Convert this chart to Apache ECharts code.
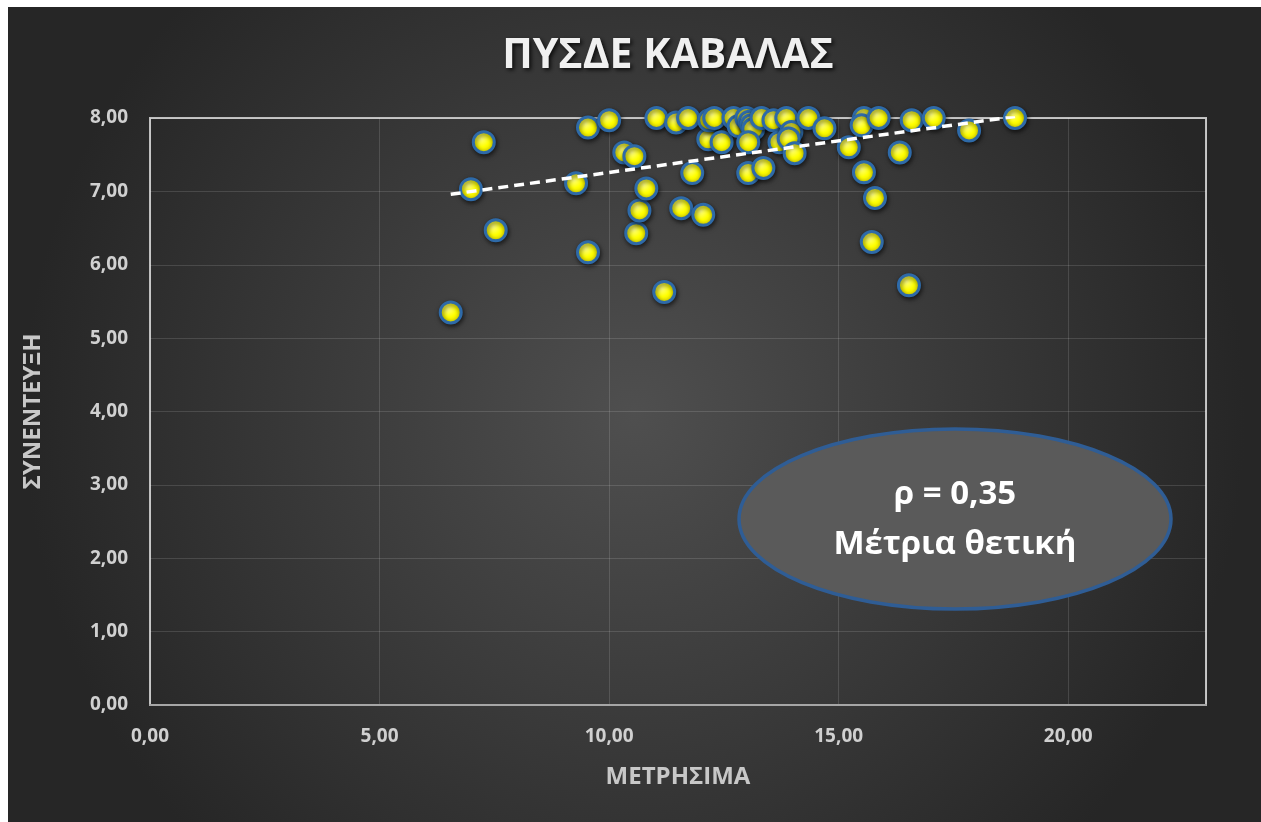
<!DOCTYPE html>
<html>
<head>
<meta charset="utf-8">
<script src="https://cdn.jsdelivr.net/npm/echarts@6.0.0/dist/echarts.min.js"></script>
<style>
  html, body { margin: 0; padding: 0; background: #fff; }
  #chart { position: absolute; left: 8px; top: 7px; width: 1253px; height: 815px; }
</style>
</head>
<body>
<div id="chart"></div>
<script>
// μετρήσιμα (x) και συνέντευξη (y), διαβασμένα από το διάγραμμα
const metrisima = [
  6.55, 6.99, 7.27, 7.53, 9.28, 9.54, 9.54, 10.00, 10.33, 10.55,
  10.59, 10.66, 10.81, 11.03, 11.20, 11.46, 11.57, 11.72, 11.81, 12.05,
  12.16, 12.18, 12.29, 12.45, 12.71, 12.82, 12.99, 13.06, 13.10, 13.14,
  13.03, 13.03, 13.32, 13.36, 13.58, 13.71, 13.86, 13.97, 13.91, 14.04,
  14.34, 14.69, 15.22, 15.55, 15.50, 15.55, 15.72, 15.79, 15.87, 16.33,
  16.53, 16.59, 17.07, 17.84, 18.84
];
const synenteuxi = [
  5.35, 7.03, 7.67, 6.47, 7.11, 7.87, 6.17, 7.97, 7.53, 7.48,
  6.43, 6.74, 7.04, 8.00, 5.63, 7.94, 6.77, 8.00, 7.25, 6.68,
  7.71, 7.97, 8.00, 7.67, 8.00, 7.89, 8.00, 7.95, 7.90, 7.85,
  7.67, 7.25, 8.00, 7.32, 7.97, 7.67, 8.00, 7.81, 7.72, 7.52,
  8.00, 7.86, 7.60, 8.00, 7.90, 7.26, 6.31, 6.91, 8.00, 7.53,
  5.72, 7.97, 8.00, 7.83, 8.00
];
// γραμμή τάσης: άκρα
const trendX = [6.55, 18.84];
const trendY = [6.96, 8.02];

const xTicks = [0, 5, 10, 15, 20];
const yTicks = [0, 1, 2, 3, 4, 5, 6, 7, 8];

const fmt = v => v.toFixed(2).replace('.', ',');
const FONT = 'Open Sans';

const myChart = echarts.init(document.getElementById('chart'));

const option = {
  backgroundColor: {
    type: 'radial', x: 0.5, y: 0.5, r: 0.75,
    colorStops: [
      { offset: 0, color: '#4f4f4f' },
      { offset: 1, color: '#262626' },
    ],
  },
  title: {
    text: 'ΠΥΣΔΕ ΚΑΒΑΛΑΣ',
    left: 655,
    top: 24,
    textAlign: 'center',
    textStyle: {
      fontFamily: FONT,
      fontWeight: 'bold',
      fontSize: 41,
      color: '#f0f0f0',
      textShadowColor: 'rgba(0,0,0,0.8)',
      textShadowBlur: 4,
      textShadowOffsetX: 2,
      textShadowOffsetY: 2,
    },
  },
  grid: {
    left: 142,
    right: 55,
    top: 111,
    bottom: 117,
    show: true,
    borderColor: '#bfbfbf',
    borderWidth: 2,
  },
  xAxis: {
    type: 'value',
    min: 0,
    max: 23,
    interval: 5,
    name: 'ΜΕΤΡΗΣΙΜΑ',
    nameLocation: 'middle',
    nameGap: 60,
    nameTextStyle: { fontFamily: FONT, fontWeight: 'bold', fontSize: 24, color: '#c8c8c8' },
    axisLine: { show: true, lineStyle: { color: '#a6a6a6', width: 2 } },
    axisTick: { show: false },
    axisLabel: {
      margin: 22,
      fontFamily: FONT, fontWeight: 'bold', fontSize: 19, color: '#d0d0d0',
      formatter: v => (xTicks.includes(v) ? fmt(v) : ''),
    },
    splitLine: { show: true, lineStyle: { color: 'rgba(255,255,255,0.13)', width: 1 } },
  },
  yAxis: {
    type: 'value',
    min: 0,
    max: 8,
    interval: 1,
    name: 'ΣΥΝΕΝΤΕΥΞΗ',
    nameLocation: 'middle',
    nameGap: 105,
    nameRotate: 90,
    nameTextStyle: { fontFamily: FONT, fontWeight: 'bold', fontSize: 24, color: '#c8c8c8' },
    axisLine: { show: false },
    axisTick: { show: false },
    axisLabel: {
      margin: 22,
      fontFamily: FONT, fontWeight: 'bold', fontSize: 19, color: '#d0d0d0',
      formatter: v => (yTicks.includes(v) ? fmt(v) : ''),
    },
    splitLine: { show: true, lineStyle: { color: 'rgba(255,255,255,0.13)', width: 1 } },
  },
  series: [
    {
      type: 'scatter',
      symbolSize: 21,
      z: 3,
      data: metrisima.map((x, i) => [x, synenteuxi[i]]),
      itemStyle: {
        color: {
          type: 'radial', x: 0.4, y: 0.35, r: 0.7,
          colorStops: [
            { offset: 0, color: '#ffff80' },
            { offset: 0.5, color: '#ffff00' },
            { offset: 1, color: '#e0d800' },
          ],
        },
        borderColor: '#2e6aa8',
        borderWidth: 3,
        shadowBlur: 5,
        shadowColor: 'rgba(0,0,0,0.6)',
        shadowOffsetX: 1,
        shadowOffsetY: 2,
        opacity: 1,
      },
    },
    {
      type: 'line',
      z: 4,
      symbol: 'none',
      silent: true,
      data: trendX.map((x, i) => [x, trendY[i]]),
      lineStyle: { color: '#ffffff', width: 3.5, type: [10, 6] },
    },
  ],
  graphic: [
    {
      type: 'ellipse',
      shape: { cx: 947, cy: 512, rx: 216, ry: 90 },
      style: { fill: '#5a5a5a', stroke: '#2f5d95', lineWidth: 3.5 },
      z: 10,
    },
    {
      type: 'text',
      x: 947,
      y: 488,
      z: 11,
      style: {
        text: 'ρ = 0,35',
        fill: '#ffffff',
        font: 'bold 33px "Open Sans"',
        align: 'center',
        verticalAlign: 'middle',
      },
    },
    {
      type: 'text',
      x: 947,
      y: 538,
      z: 11,
      style: {
        text: 'Μέτρια θετική',
        fill: '#ffffff',
        font: 'bold 33px "Open Sans"',
        align: 'center',
        verticalAlign: 'middle',
      },
    },
  ],
};

myChart.setOption(option);
window.addEventListener('resize', myChart.resize);
</script>
</body>
</html>
